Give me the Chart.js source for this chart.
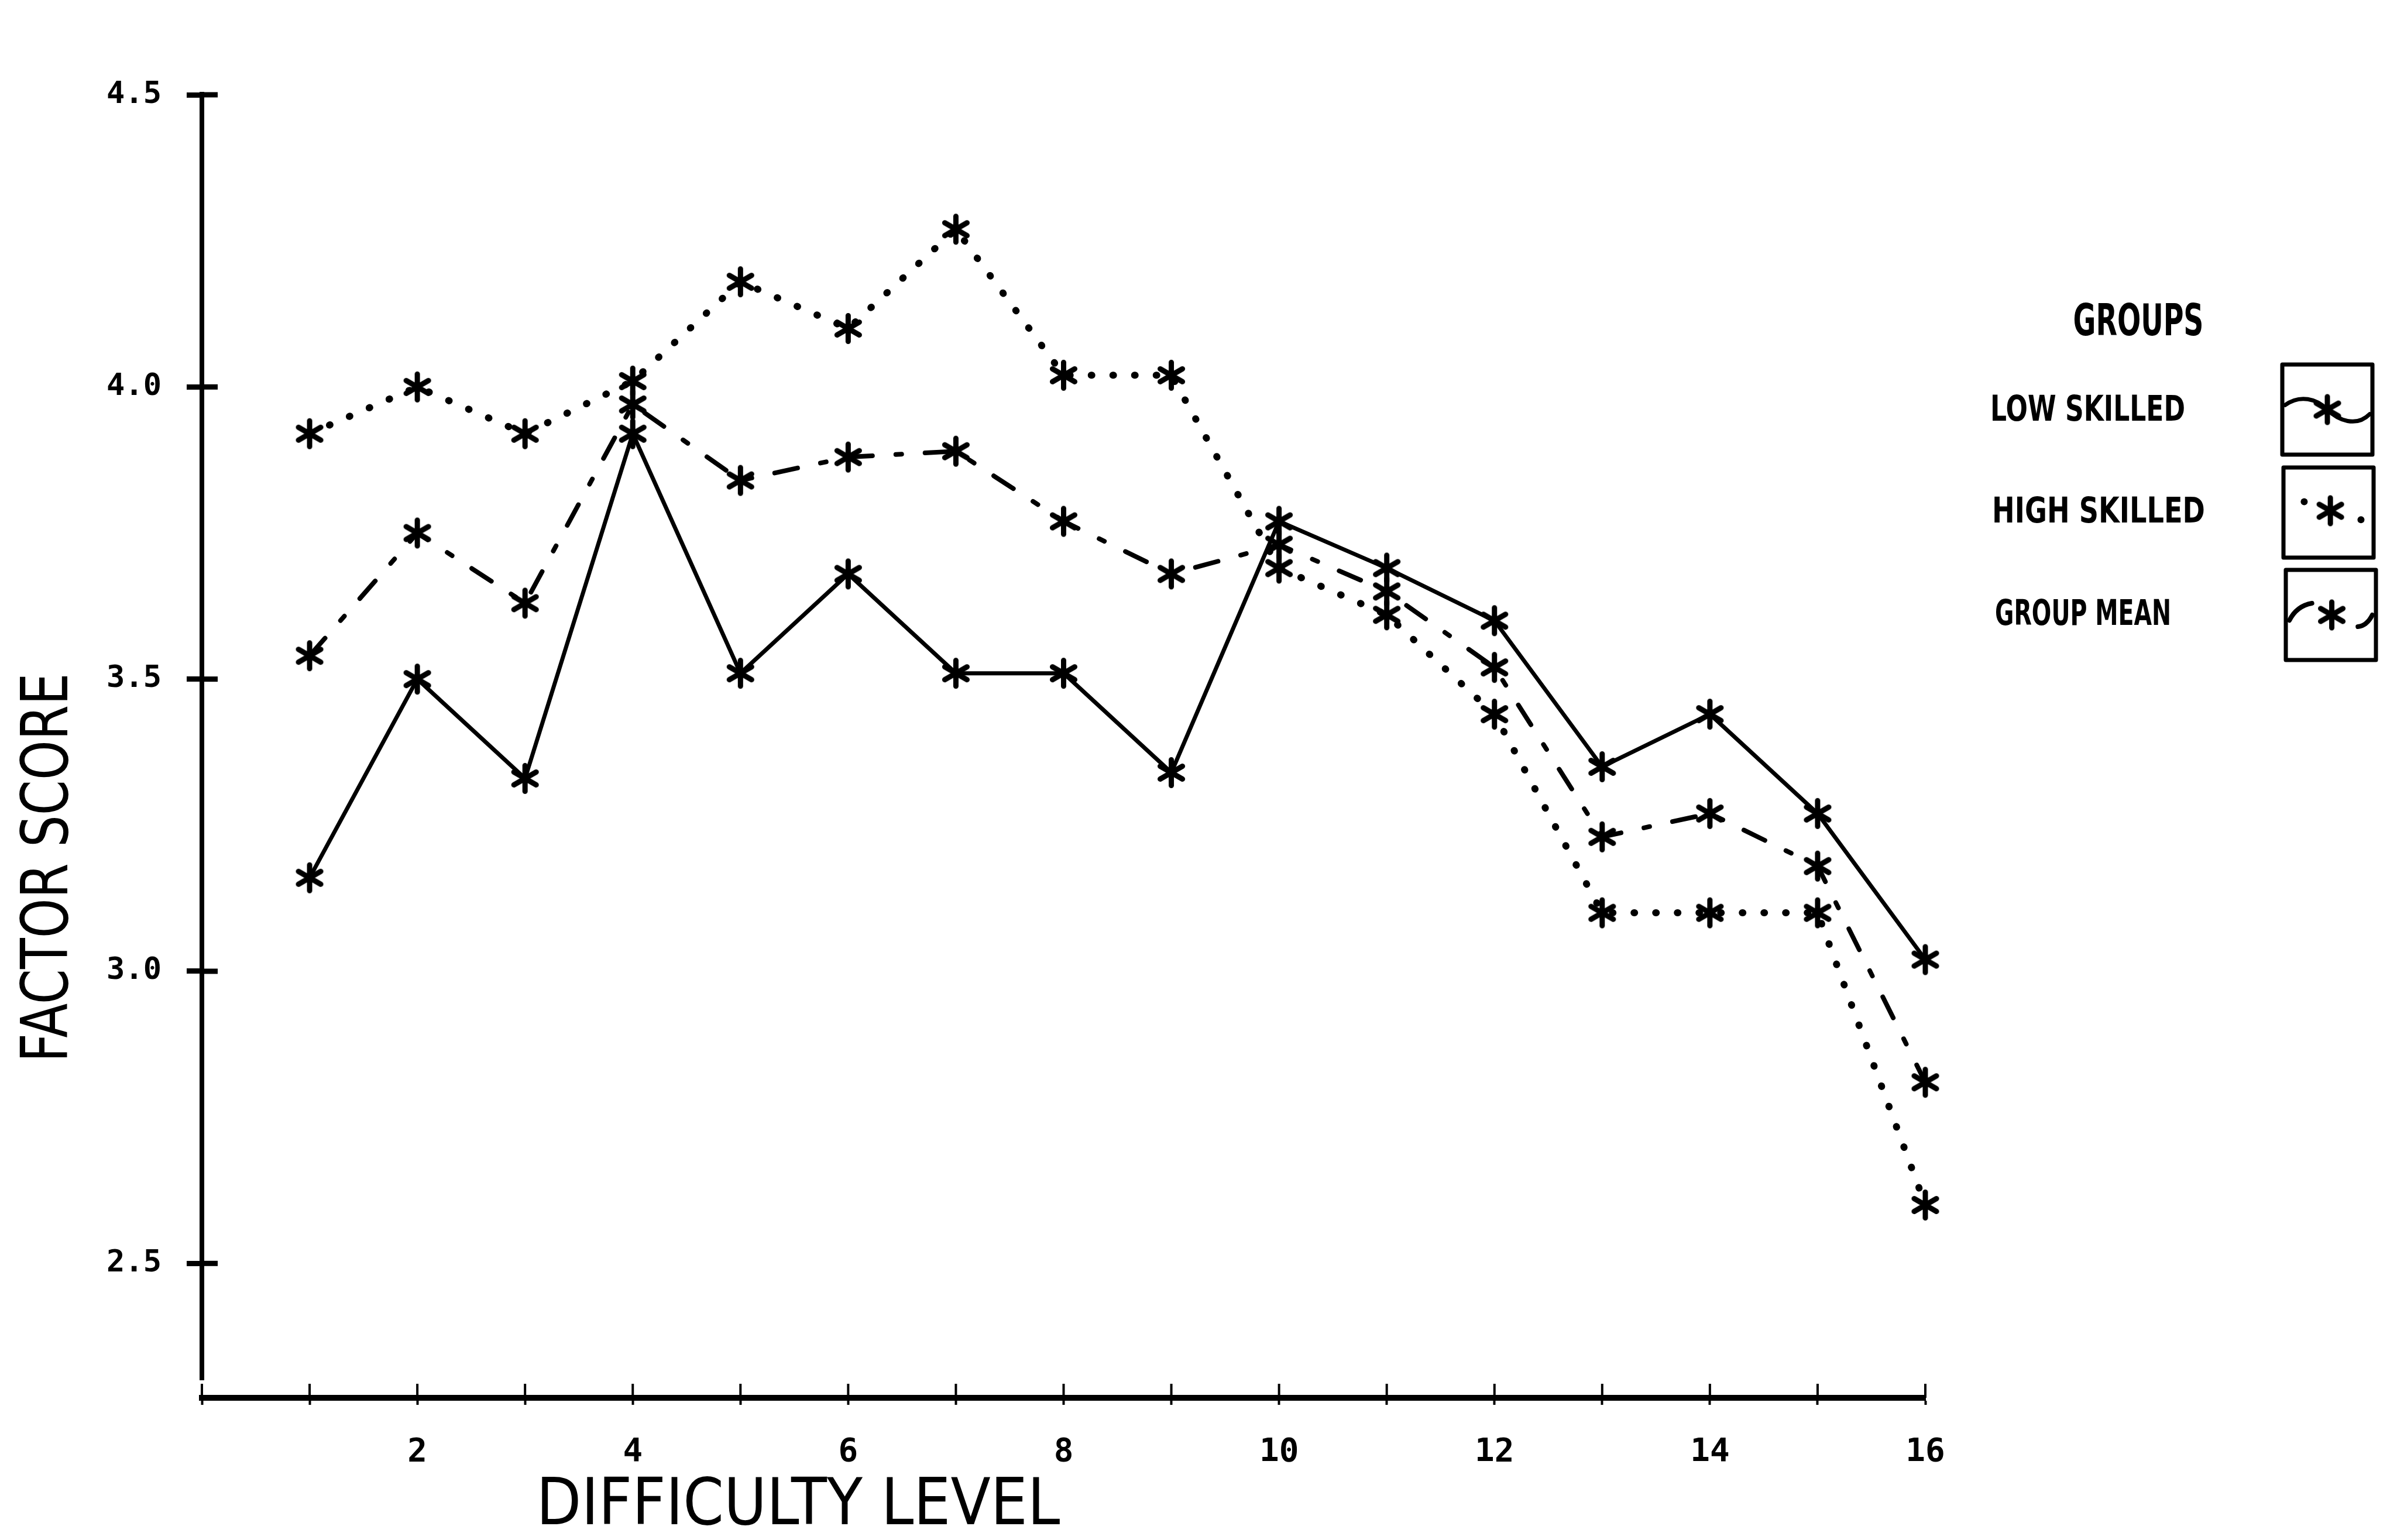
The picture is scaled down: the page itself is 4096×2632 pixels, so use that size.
<!DOCTYPE html>
<html><head><meta charset="utf-8">
<script src="https://cdn.jsdelivr.net/npm/chart.js@4.4.1/dist/chart.umd.min.js"></script>
<style>html,body{margin:0;padding:0;background:#fff;overflow:hidden}canvas{display:block}</style>
</head><body>
<canvas id="c" width="4096" height="2632"></canvas>
<script>
// ---------- data ----------
const levels = [1,2,3,4,5,6,7,8,9,10,11,12,13,14,15,16];
const lowSkilled  = [3.16,3.50,3.33,3.92,3.51,3.68,3.51,3.51,3.34,3.77,3.69,3.60,3.35,3.44,3.27,3.02];
const highSkilled = [3.92,4.00,3.92,4.01,4.18,4.10,4.27,4.02,4.02,3.69,3.61,3.44,3.10,3.10,3.10,2.60];
const groupMean   = [3.54,3.75,3.63,3.97,3.84,3.88,3.89,3.77,3.68,3.73,3.65,3.52,3.23,3.27,3.18,2.81];
const xTickValues = [0,1,2,3,4,5,6,7,8,9,10,11,12,13,14,15,16];
const xLabelValues = [2,4,6,8,10,12,14,16];
const yTickValues = [2.5,3.0,3.5,4.0,4.5];
const seriesNames = ['LOW SKILLED','HIGH SKILLED','GROUP MEAN'];
const legendTitle = 'GROUPS';
const xTitle = 'DIFFICULTY LEVEL';
const yTitle = 'FACTOR SCORE';

// ---------- marker ----------
function makeStar(r, lw){
  const s = Math.ceil(2*r + lw + 4);
  const c = document.createElement('canvas'); c.width = s; c.height = s;
  const g = c.getContext('2d');
  g.translate(s/2, s/2); g.strokeStyle = '#000'; g.lineWidth = lw; g.lineCap = 'round';
  const a = Math.PI/6, cx = r*Math.cos(a), sy = r*Math.sin(a);
  g.beginPath();
  g.moveTo(0,-r); g.lineTo(0,r);
  g.moveTo(-cx,-sy); g.lineTo(cx,sy);
  g.moveTo(-cx,sy); g.lineTo(cx,-sy);
  g.stroke();
  return c;
}
const star = makeStar(22, 9);

function condensedText(ctx, text, cx, cy, size, width, weight, rot){
  ctx.save();
  ctx.font = weight + ' ' + size + 'px "DejaVu Sans"';
  const w = ctx.measureText(text).width;
  ctx.translate(cx, cy);
  if (rot) ctx.rotate(rot);
  ctx.scale(width / w, 1);
  ctx.textAlign = 'center'; ctx.textBaseline = 'alphabetic'; ctx.fillStyle = '#000';
  ctx.fillText(text, 0, size * 0.3645);
  ctx.restore();
}

const decor = {
  id: 'decor',
  afterDraw(chart){
    const {ctx, chartArea: ca, scales: {x, y}} = chart;
    ctx.save();
    ctx.strokeStyle = '#000'; ctx.fillStyle = '#000';
    // y axis line
    ctx.lineWidth = 8; ctx.lineCap = 'butt';
    ctx.beginPath();
    ctx.moveTo(ca.left, y.getPixelForValue(4.5) - 5);
    ctx.lineTo(ca.left, y.getPixelForValue(2.30));
    ctx.stroke();
    // inward parts of y ticks
    ctx.lineWidth = 9;
    yTickValues.forEach(v => { const py = y.getPixelForValue(v); ctx.beginPath(); ctx.moveTo(ca.left, py); ctx.lineTo(ca.left + 27, py); ctx.stroke(); });
    // inward parts of x ticks
    ctx.lineWidth = 4;
    xTickValues.forEach(v => { const px = x.getPixelForValue(v); ctx.beginPath(); ctx.moveTo(px, ca.bottom); ctx.lineTo(px, ca.bottom - 24); ctx.stroke(); });
    // axis titles
    condensedText(ctx, xTitle, 1364, 2565, 111, 895, 'normal', 0);
    condensedText(ctx, yTitle, 75, 1483, 111, 665, 'normal', -Math.PI/2);
    // legend
    condensedText(ctx, legendTitle, 3654, 546, 74, 223, 'bold', 0);
    const labY = [697, 871, 1046], labW = [333, 364, 301], labL = [3401, 3404, 3409];
    seriesNames.forEach((n,i) => condensedText(ctx, n, labL[i] + labW[i]/2, labY[i], 60, labW[i], 'bold', 0));
    const boxes = [[3900,623],[3902,799],[3906,974]], bs = 154;
    ctx.lineWidth = 7; ctx.lineJoin = 'round';
    boxes.forEach(([bx,by]) => ctx.strokeRect(bx, by, bs, bs));
    const P = (b, fx, fy) => [b[0] + fx*bs, b[1] + fy*bs];
    const drawStar = (b, fx, fy) => { const [px,py] = P(b,fx,fy); ctx.drawImage(star, px - star.width/2, py - star.height/2); };
    // box 1: solid wavy line
    let b = boxes[0];
    ctx.lineWidth = 7; ctx.lineCap = 'round';
    ctx.beginPath();
    ctx.moveTo(...P(b,0.03,0.45));
    ctx.bezierCurveTo(...P(b,0.2,0.33), ...P(b,0.38,0.38), ...P(b,0.5,0.5));
    ctx.bezierCurveTo(...P(b,0.62,0.62), ...P(b,0.82,0.70), ...P(b,0.97,0.55));
    ctx.stroke();
    drawStar(b, 0.5, 0.5);
    // box 2: dots
    b = boxes[1];
    [[0.23,0.38],[0.86,0.58]].forEach(([fx,fy]) => { const [px,py] = P(b,fx,fy); ctx.beginPath(); ctx.arc(px, py, 6, 0, Math.PI*2); ctx.fill(); });
    drawStar(b, 0.52, 0.48);
    // box 3: dashes
    b = boxes[2];
    ctx.lineWidth = 8;
    ctx.beginPath(); ctx.moveTo(...P(b,0.04,0.56)); ctx.quadraticCurveTo(...P(b,0.12,0.40), ...P(b,0.29,0.37)); ctx.stroke();
    ctx.beginPath(); ctx.moveTo(...P(b,0.80,0.63)); ctx.quadraticCurveTo(...P(b,0.90,0.62), ...P(b,0.96,0.50)); ctx.stroke();
    drawStar(b, 0.51, 0.50);
    ctx.restore();
  }
};

const mk = arr => levels.map((lv, i) => ({x: lv, y: arr[i]}));

new Chart(document.getElementById('c'), {
  type: 'line',
  data: {
    datasets: [
      {label: seriesNames[0], data: mk(lowSkilled), borderColor: '#000', borderWidth: 7, borderJoinStyle: 'round',
       pointStyle: star, pointRadius: 22, fill: false, tension: 0, clip: false},
      {label: seriesNames[1], data: mk(highSkilled), borderColor: '#000', borderWidth: 12, borderDash: [1, 36], borderCapStyle: 'round',
       pointStyle: star, pointRadius: 22, fill: false, tension: 0, clip: false},
      {label: seriesNames[2], data: mk(groupMean), borderColor: '#000', borderWidth: 8, borderDash: [40, 40, 10, 40], borderCapStyle: 'round',
       pointStyle: star, pointRadius: 22, fill: false, tension: 0, clip: false}
    ]
  },
  options: {
    responsive: false, animation: false, devicePixelRatio: 1,
    layout: {padding: {top: 162, right: 806, left: 0, bottom: 0}},
    plugins: {legend: {display: false}, title: {display: false}, tooltip: {enabled: false}},
    scales: {
      x: {
        type: 'linear', min: 0, max: 16, position: 'bottom',
        afterBuildTicks: s => { s.ticks = xTickValues.map(v => ({value: v})); },
        afterFit: s => { s.height = 2632 - 2389; },
        ticks: {autoSkip: false, maxRotation: 0, padding: 48, color: '#000',
                font: {family: 'DejaVu Sans Mono', size: 56, weight: 'bold'},
                callback: v => xLabelValues.includes(v) ? String(v) : ''},
        grid: {drawOnChartArea: false, drawTicks: true, tickLength: 12, tickWidth: 4, tickColor: '#000'},
        border: {display: true, color: '#000', width: 10}
      },
      y: {
        type: 'linear', min: 2.27, max: 4.5, position: 'left',
        afterBuildTicks: s => { s.ticks = yTickValues.map(v => ({value: v})); },
        afterFit: s => { s.width = 345; },
        ticks: {autoSkip: false, padding: 43, color: '#000',
                font: {family: 'DejaVu Sans Mono', size: 52, weight: 'bold'},
                callback: v => Number(v).toFixed(1)},
        grid: {drawOnChartArea: false, drawTicks: true, tickLength: 26, tickWidth: 9, tickColor: '#000'},
        border: {display: false}
      }
    }
  },
  plugins: [decor]
});
</script>
</body></html>
